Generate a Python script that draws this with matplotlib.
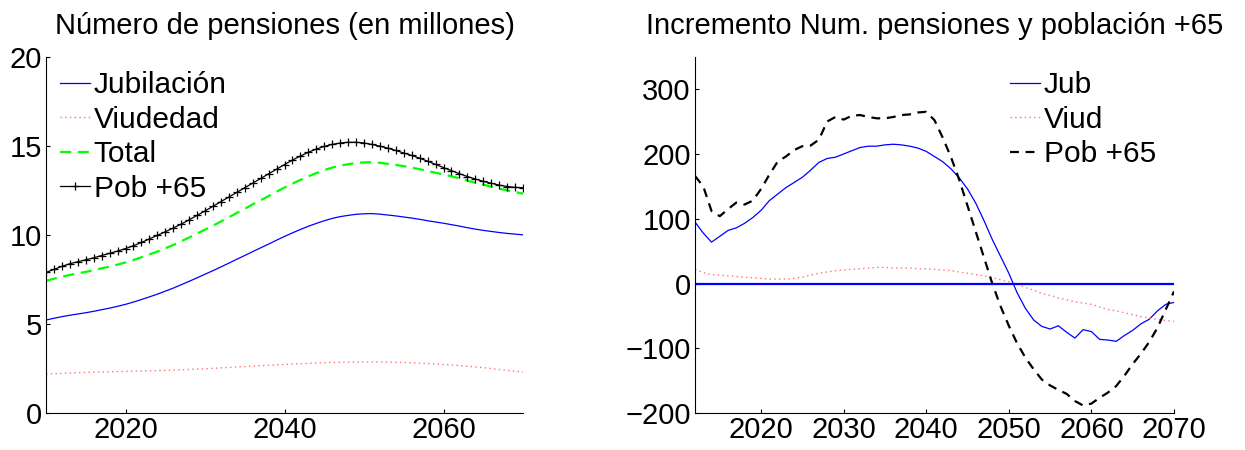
import numpy as np
import matplotlib.pyplot as plt

plt.rcParams['font.family'] = ['Liberation Sans', 'DejaVu Sans']

# Number of pensions (millions), 2010-2070
years = np.arange(2010, 2071)
jubilacion = [5.23, 5.33, 5.42, 5.50, 5.57, 5.64, 5.72, 5.81, 5.90, 6.00,
              6.11, 6.24, 6.38, 6.53, 6.68, 6.85, 7.02, 7.21, 7.40, 7.60,
              7.80, 8.00, 8.21, 8.42, 8.64, 8.85, 9.07, 9.28, 9.49, 9.71,
              9.92, 10.12, 10.31, 10.49, 10.65, 10.80, 10.93, 11.03, 11.10, 11.16,
              11.19, 11.20, 11.17, 11.12, 11.07, 11.01, 10.95, 10.88, 10.80, 10.73,
              10.66, 10.58, 10.50, 10.41, 10.33, 10.26, 10.20, 10.14, 10.09, 10.05,
              10.01]
viudedad = [2.20, 2.22, 2.24, 2.26, 2.28, 2.29, 2.31, 2.32, 2.33, 2.34,
            2.35, 2.36, 2.37, 2.38, 2.39, 2.40, 2.42, 2.44, 2.46, 2.48,
            2.50, 2.52, 2.55, 2.57, 2.60, 2.62, 2.65, 2.67, 2.69, 2.72,
            2.74, 2.76, 2.78, 2.80, 2.82, 2.84, 2.85, 2.86, 2.87, 2.88,
            2.88, 2.88, 2.88, 2.87, 2.86, 2.85, 2.83, 2.81, 2.79, 2.76,
            2.74, 2.71, 2.68, 2.64, 2.60, 2.56, 2.51, 2.46, 2.41, 2.36,
            2.31]
total = [7.43, 7.55, 7.66, 7.76, 7.85, 7.93, 8.03, 8.13, 8.23, 8.34,
         8.46, 8.60, 8.75, 8.91, 9.07, 9.25, 9.44, 9.65, 9.86, 10.08,
         10.30, 10.52, 10.76, 10.99, 11.24, 11.47, 11.72, 11.95, 12.18, 12.43,
         12.66, 12.88, 13.09, 13.29, 13.47, 13.64, 13.78, 13.89, 13.97, 14.04,
         14.07, 14.08, 14.05, 13.99, 13.93, 13.86, 13.78, 13.69, 13.59, 13.49,
         13.40, 13.29, 13.18, 13.05, 12.93, 12.82, 12.71, 12.60, 12.50, 12.41,
         12.32]
pob65 = [7.90, 8.07, 8.24, 8.39, 8.50, 8.61, 8.72, 8.85, 8.97, 9.10,
         9.24, 9.40, 9.58, 9.78, 9.98, 10.18, 10.39, 10.61, 10.85, 11.10,
         11.35, 11.61, 11.87, 12.13, 12.39, 12.65, 12.91, 13.17, 13.43, 13.69,
         13.95, 14.20, 14.43, 14.64, 14.82, 14.97, 15.08, 15.16, 15.20, 15.20,
         15.16, 15.08, 14.98, 14.87, 14.74, 14.60, 14.46, 14.31, 14.14, 13.96,
         13.78, 13.61, 13.44, 13.28, 13.14, 13.01, 12.90, 12.80, 12.72, 12.67,
         12.65]

# Yearly increments (thousands), 2012-2070
years_inc = np.arange(2012, 2071)
inc_jub = [95, 78, 64, 73, 82, 86, 93, 102,
           113, 128, 138, 148, 156, 164, 175, 187, 193, 195,
           200, 205, 210, 212, 212, 214, 215, 214, 212, 209,
           204, 196, 188, 177, 163, 146, 124, 97, 68, 42,
           16, -14, -38, -56, -66, -70, -65, -75, -84, -71,
           -74, -86, -87, -89, -80, -72, -62, -55, -42, -32,
           -29]
inc_viud = [22, 17, 14, 13, 12, 11, 10, 9,
            8, 7, 7, 7, 8, 10, 13, 16, 18, 20,
            21, 22, 23, 24, 25, 25, 24, 24, 24, 23,
            23, 22, 21, 20, 18, 16, 14, 12, 9, 6,
            3, -1, -6, -10, -15, -18, -22, -25, -28, -30,
            -32, -36, -40, -42, -45, -48, -51, -53, -55, -57,
            -58]
inc_pob65 = [166, 150, 112, 104, 115, 125, 122, 128,
             146, 168, 188, 196, 206, 212, 213, 222, 250, 257,
             253, 259, 260, 257, 255, 255, 257, 260, 261, 264,
             265, 252, 225, 195, 160, 120, 80, 40, 0, -35,
             -65, -92, -114, -132, -148, -157, -164, -170, -181, -188,
             -185, -176, -168, -158, -142, -124, -108, -90, -68, -40,
             -12]

FS = 21
LEG_FS = 21.5
fig = plt.figure(figsize=(12.45, 4.5), dpi=100)
ax1 = fig.add_axes([46 / 1245, 36.7 / 450, 477 / 1245, 356.6 / 450])
ax2 = fig.add_axes([695 / 1245, 36.7 / 450, 479 / 1245, 356.6 / 450])

ax1.plot(years, jubilacion, color='b', lw=0.9, label='Jubilación')
ax1.plot(years, viudedad, color=(1, 0.45, 0.45), lw=1.0, ls=(0, (1, 2.4)), label='Viudedad')
ax1.plot(years, total, color=(0, 1, 0), lw=1.6, ls=(0, (5, 3)), label='Total')
ax1.plot(years, pob65, color='k', lw=0.9, marker='+', ms=6, mew=0.9, label='Pob +65')
ax1.set_xlim(2010, 2070)
ax1.set_ylim(0, 20)
ax1.set_xticks([2020, 2040, 2060])
ax1.set_yticks([0, 5, 10, 15, 20])
ax1.set_title('Número de pensiones (en millones)', fontsize=FS, pad=16)
ax1.legend(loc='upper left', bbox_to_anchor=(0.03, 0.96), frameon=False,
           fontsize=LEG_FS, handlelength=1.0, handletextpad=0.12, labelspacing=0.22,
           borderpad=0, borderaxespad=0)

ax2.plot(years_inc, inc_jub, color='b', lw=0.9, label='Jub')
ax2.plot(years_inc, inc_viud, color=(1, 0.45, 0.45), lw=1.0, ls=(0, (1, 2.4)), label='Viud')
ax2.plot(years_inc, inc_pob65, color='k', lw=1.6, ls=(0, (4, 3)), label='Pob +65')
ax2.axhline(0, color='b', lw=1.6)
ax2.set_xlim(2012, 2070)
ax2.set_ylim(-200, 350)
ax2.set_xticks([2020, 2030, 2040, 2050, 2060, 2070])
ax2.set_yticks([-200, -100, 0, 100, 200, 300])
ax2.set_title('Incremento Num. pensiones y población +65', fontsize=FS, pad=16)
ax2.legend(loc='upper left', bbox_to_anchor=(0.658, 0.96), frameon=False,
           fontsize=LEG_FS, handlelength=1.0, handletextpad=0.12, labelspacing=0.22,
           borderpad=0, borderaxespad=0)

for ax in (ax1, ax2):
    ax.spines['top'].set_visible(False)
    ax.spines['right'].set_visible(False)
    ax.spines['left'].set_linewidth(0.8)
    ax.spines['bottom'].set_linewidth(0.8)
    ax.tick_params(direction='in', length=3, width=0.8, labelsize=FS)
    ax.tick_params(axis='x', pad=2)
    ax.tick_params(axis='y', pad=3)

fig.savefig('out.png', dpi=100)
